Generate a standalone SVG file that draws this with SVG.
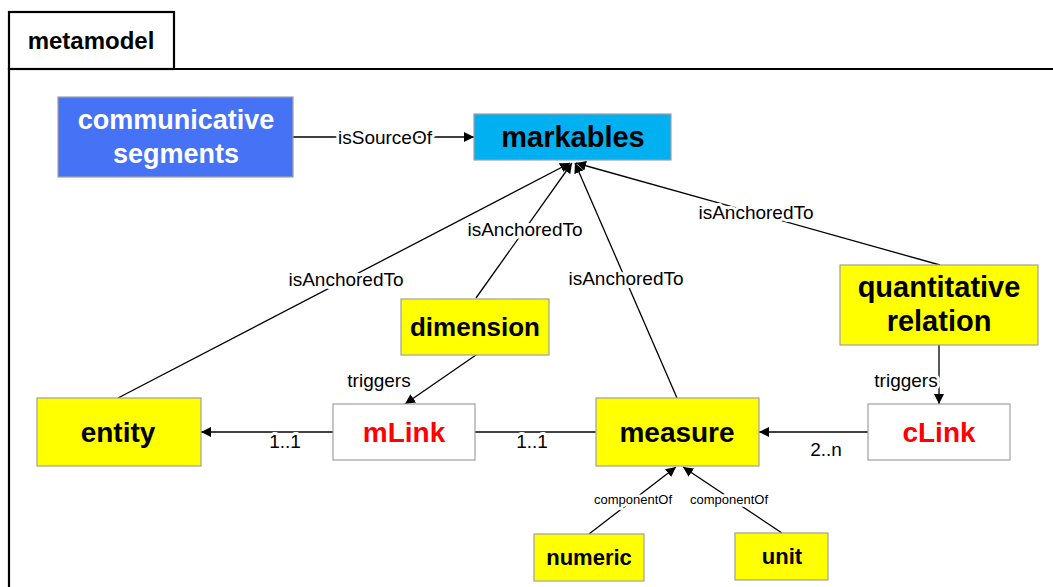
<svg xmlns="http://www.w3.org/2000/svg" width="1053" height="587" viewBox="0 0 1053 587">
<defs>
<marker id="ah" viewBox="0 0 10 10" refX="10" refY="5" markerWidth="10" markerHeight="10" markerUnits="userSpaceOnUse" orient="auto">
<path d="M0,0 L10,5 L0,10 z" fill="#000"/>
</marker>
</defs>
<style>
.node{stroke:#a0a0a0;stroke-width:1.2}
.y{fill:#ffff00}
.w{fill:#ffffff}
.t{font-family:"Liberation Sans",Arial,sans-serif;font-weight:bold;text-anchor:middle;fill:#000}
.r{fill:#ff0000}
.lbl{font-family:"Liberation Sans",Arial,sans-serif;font-size:19px;text-anchor:middle;fill:#000;stroke:#fff;stroke-width:6;paint-order:stroke;stroke-linejoin:round}
.sm{font-size:13px}
.c{stroke:#000;stroke-width:1.3;fill:none}
.a{marker-end:url(#ah)}
</style>
<rect width="1053" height="587" fill="#fff"/>
<g id="frame">
<path d="M9,587 V69 H1053" fill="none" stroke="#000" stroke-width="2.2"/>
<rect x="9" y="12" width="165" height="57" fill="#fff" stroke="#000" stroke-width="2.2"/>
<text x="91" y="49" class="t" font-size="24">metamodel</text>
</g>
<g id="connectors">
<line class="c a" x1="293" y1="137" x2="474" y2="137"/>
<line class="c a" x1="118" y1="398" x2="570" y2="163"/>
<line class="c a" x1="476" y1="298" x2="572" y2="163"/>
<line class="c a" x1="677" y1="398" x2="575" y2="163"/>
<line class="c a" x1="940" y1="265" x2="576" y2="163"/>
<line class="c a" x1="476" y1="355" x2="405" y2="404"/>
<line class="c a" x1="939" y1="345" x2="939" y2="404"/>
<line class="c a" x1="333" y1="432" x2="201" y2="432"/>
<line class="c" x1="475" y1="432" x2="596" y2="432"/>
<line class="c a" x1="868" y1="432" x2="759" y2="432"/>
<line class="c a" x1="589" y1="534" x2="676" y2="467"/>
<line class="c a" x1="782" y1="533" x2="683" y2="467"/>
<text class="lbl" x="385" y="144">isSourceOf</text>
<text class="lbl" x="346" y="286">isAnchoredTo</text>
<text class="lbl" x="525" y="236">isAnchoredTo</text>
<text class="lbl" x="626" y="285">isAnchoredTo</text>
<text class="lbl" x="756" y="219">isAnchoredTo</text>
<text class="lbl" x="379" y="387">triggers</text>
<text class="lbl" x="906" y="387">triggers</text>
<text class="lbl" x="285" y="448">1..1</text>
<text class="lbl" x="532" y="448">1..1</text>
<text class="lbl" x="826" y="456">2..n</text>
<text class="lbl sm" x="633" y="504">componentOf</text>
<text class="lbl sm" x="729" y="504">componentOf</text>
</g>
<g id="communicative-segments">
<rect x="58" y="97" width="235" height="80" fill="#4673f5" class="node"/>
<text x="176" y="129" class="t" font-size="27" style="fill:#fff">communicative</text>
<text x="176" y="163" class="t" font-size="27" style="fill:#fff">segments</text>
</g>
<g id="markables">
<rect x="474" y="114" width="197" height="46" fill="#00b0f0" class="node"/>
<text x="573" y="147" class="t" font-size="29">markables</text>
</g>
<g id="dimension">
<rect x="401" y="299" width="148" height="56" class="node y"/>
<text x="475" y="336" class="t" font-size="26">dimension</text>
</g>
<g id="quantitative-relation">
<rect x="840" y="265" width="198" height="80" class="node y"/>
<text x="939" y="297" class="t" font-size="29">quantitative</text>
<text x="939" y="331" class="t" font-size="29">relation</text>
</g>
<g id="entity">
<rect x="37" y="398" width="164" height="68" class="node y"/>
<text x="118" y="442" class="t" font-size="28">entity</text>
</g>
<g id="mLink">
<rect x="333" y="404" width="142" height="56" class="node w"/>
<text x="404" y="442" class="t r" font-size="28">mLink</text>
</g>
<g id="measure">
<rect x="596" y="398" width="163" height="68" class="node y"/>
<text x="677" y="442" class="t" font-size="28">measure</text>
</g>
<g id="cLink">
<rect x="868" y="404" width="142" height="56" class="node w"/>
<text x="939" y="442" class="t r" font-size="28">cLink</text>
</g>
<g id="numeric">
<rect x="534" y="534" width="110" height="47" class="node y"/>
<text x="589" y="565" class="t" font-size="22">numeric</text>
</g>
<g id="unit">
<rect x="735" y="533" width="93" height="47" class="node y"/>
<text x="782" y="564" class="t" font-size="22">unit</text>
</g>
</svg>
